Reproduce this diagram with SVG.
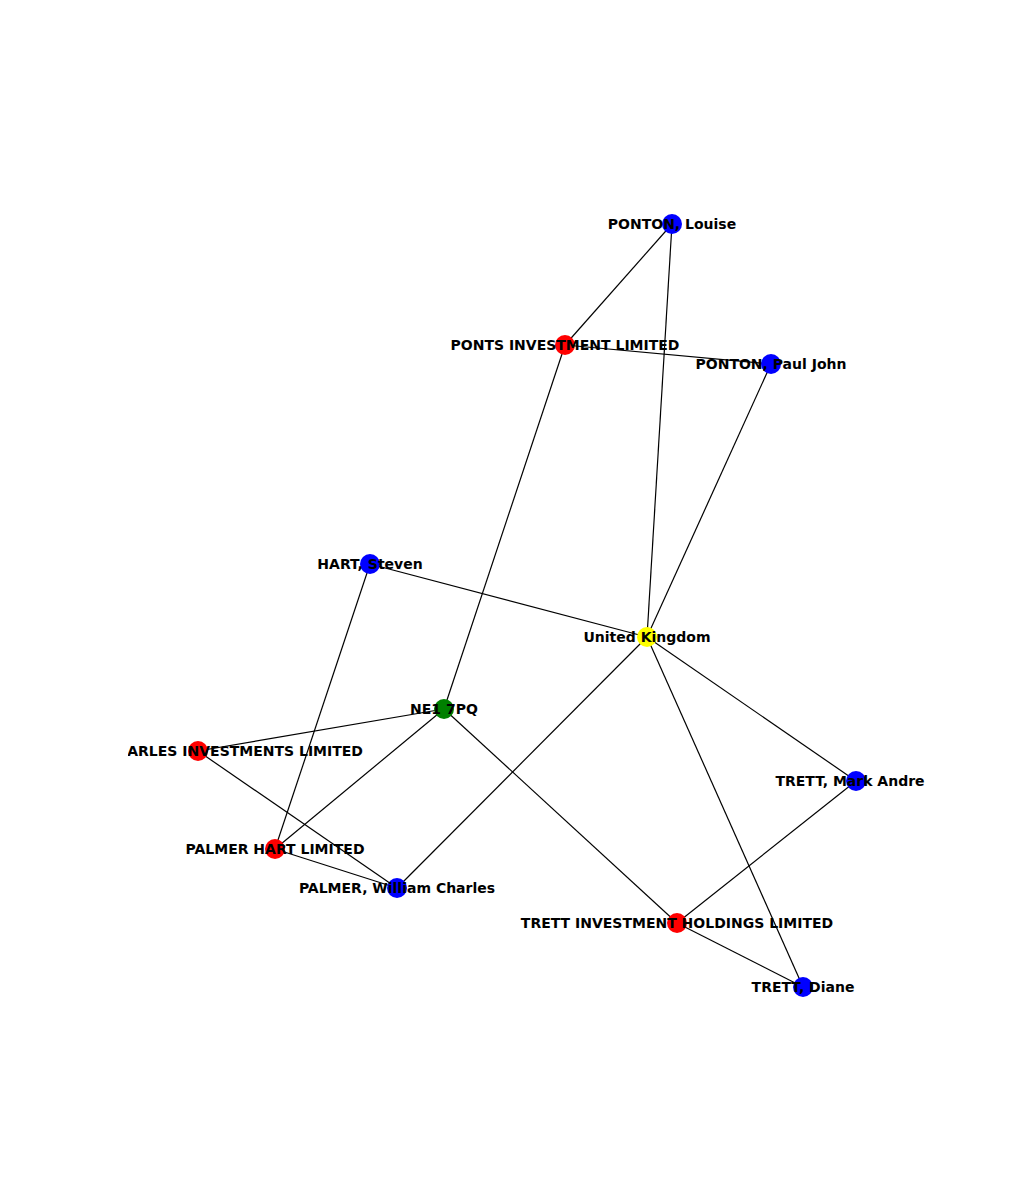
<svg xmlns="http://www.w3.org/2000/svg" width="1029" height="1200" viewBox="0 0 1029 1200">
<style>
line{stroke:#000;stroke-width:1.2}
circle{r:10}
text{font-family:"DejaVu Sans",sans-serif;font-weight:bold;font-size:14px;text-anchor:middle;dominant-baseline:central}
</style>
<defs><clipPath id="c"><rect x="128" y="0" width="901" height="1200"/></clipPath></defs>
<rect width="1029" height="1200" fill="#fff"/>
<g id="edges">
<line x1="672" y1="224" x2="565" y2="345"/>
<line x1="672" y1="224" x2="647" y2="637"/>
<line x1="565" y1="345" x2="771" y2="364"/>
<line x1="565" y1="345" x2="444" y2="709"/>
<line x1="771" y1="364" x2="647" y2="637"/>
<line x1="370" y1="564" x2="647" y2="637"/>
<line x1="370" y1="564" x2="275" y2="849"/>
<line x1="647" y1="637" x2="397" y2="888"/>
<line x1="647" y1="637" x2="856" y2="781"/>
<line x1="647" y1="637" x2="803" y2="987"/>
<line x1="444" y1="709" x2="198" y2="751"/>
<line x1="444" y1="709" x2="275" y2="849"/>
<line x1="444" y1="709" x2="677" y2="923"/>
<line x1="198" y1="751" x2="397" y2="888"/>
<line x1="275" y1="849" x2="397" y2="888"/>
<line x1="677" y1="923" x2="856" y2="781"/>
<line x1="677" y1="923" x2="803" y2="987"/>
</g>
<g id="n1"><circle cx="672" cy="224" fill="#00f"/><text x="672" y="224">PONTON, Louise</text></g>
<g id="n2"><circle cx="565" cy="345" fill="#f00"/><text x="565" y="345">PONTS INVESTMENT LIMITED</text></g>
<g id="n3"><circle cx="771" cy="364" fill="#00f"/><text x="771" y="364">PONTON, Paul John</text></g>
<g id="n4"><circle cx="370" cy="564" fill="#00f"/><text x="370" y="564">HART, Steven</text></g>
<g id="n5"><circle cx="647" cy="637" fill="#ff0"/><text x="647" y="637">United Kingdom</text></g>
<g id="n6"><circle cx="444" cy="709" fill="#008000"/><text x="444" y="709">NE1 7PQ</text></g>
<g id="n7"><circle cx="198" cy="751" fill="#f00"/><text x="363" y="751" clip-path="url(#c)" style="text-anchor:end">CHARLES INVESTMENTS LIMITED</text></g>
<g id="n8"><circle cx="275" cy="849" fill="#f00"/><text x="275" y="849">PALMER HART LIMITED</text></g>
<g id="n9"><circle cx="397" cy="888" fill="#00f"/><text x="397" y="888">PALMER, William Charles</text></g>
<g id="n10"><circle cx="677" cy="923" fill="#f00"/><text x="677" y="923">TRETT INVESTMENT HOLDINGS LIMITED</text></g>
<g id="n11"><circle cx="856" cy="781" fill="#00f"/><text x="850" y="781">TRETT, Mark Andre</text></g>
<g id="n12"><circle cx="803" cy="987" fill="#00f"/><text x="803" y="987">TRETT, Diane</text></g>
</svg>
